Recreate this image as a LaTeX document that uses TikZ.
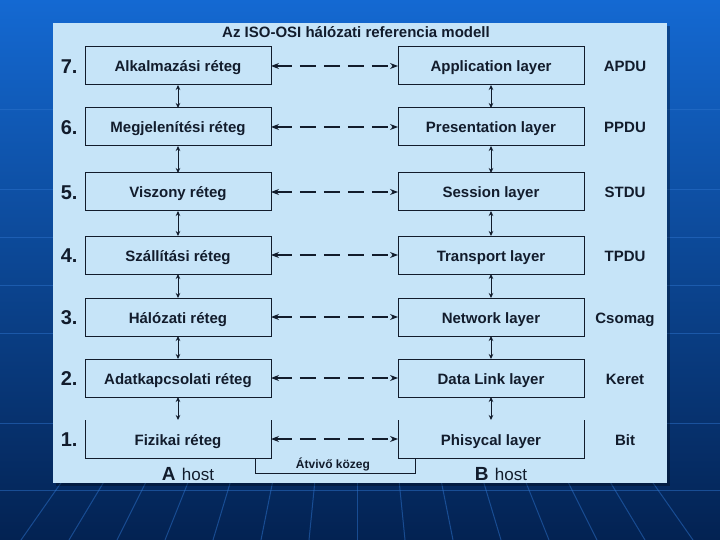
\documentclass[tikz,border=0pt]{standalone}
\usepackage{fontspec}
\setmainfont{Liberation Sans}
\usetikzlibrary{arrows.meta}
\definecolor{bgtop}{RGB}{20,105,210}
\definecolor{bgmid}{RGB}{12,72,165}
\definecolor{bgbot}{RGB}{3,34,82}
\definecolor{panel}{RGB}{198,228,248}
\definecolor{ink}{RGB}{18,28,44}
\definecolor{gridl}{RGB}{45,115,205}
\tikzset{
  layerbox/.style={minimum width=186pt, minimum height=38pt, inner sep=0pt, outer sep=0pt,
    text height=15pt, text depth=3pt,
    font=\fontsize{15}{18}\selectfont\bfseries, text=ink},
  framed/.style={draw=ink, line width=1pt},
  numlbl/.style={anchor=east, font=\fontsize{20}{24}\selectfont\bfseries, text=ink},
  pdulbl/.style={text height=13pt, text depth=3pt, font=\fontsize{15}{18}\selectfont\bfseries, text=ink},
  peerarrow/.style={draw=ink, line width=1.1pt, dash pattern=on 16pt off 8pt,
    {Stealth[length=8pt,width=6pt]}-{Stealth[length=8pt,width=6pt]}},
  vertarrow/.style={draw=ink, line width=0.8pt,
    {Stealth[length=5pt,width=4.5pt]}-{Stealth[length=5pt,width=4.5pt]}},
}
\begin{document}
\begin{tikzpicture}[x=1pt,y=-1pt]
\useasboundingbox (0,0) rectangle (720,540);
% background
\shade[top color=bgtop, middle color=bgmid, bottom color=bgbot] (0,0) rectangle (720,540);
\begin{scope}[draw=gridl, line width=1pt, opacity=0.5]
  \foreach \yy in {110,190,237,285,333,423,490}
    \draw (0,\yy) -- (720,\yy);
  \begin{scope}
    \clip (0,483) rectangle (720,540);
    \foreach \k in {-7,...,7}
      \draw (357,60) -- ({357+\k*48},540);
  \end{scope}
\end{scope}
% panel
\fill[black, opacity=0.3] (56,26) rectangle (670,486);
\fill[panel] (53,23) rectangle (667,483);
% title
\node[font=\fontsize{15}{18}\selectfont\bfseries, text=ink] (title) at (356,32) {Az ISO-OSI hálózati referencia modell};
% rows
\foreach \n/\yy/\la/\lb/\pdu in {
  7/66/Alkalmazási réteg/Application layer/APDU,
  6/127/Megjelenítési réteg/Presentation layer/PPDU,
  5/192/Viszony réteg/Session layer/STDU,
  4/255/Szállítási réteg/Transport layer/TPDU,
  3/317/Hálózati réteg/Network layer/Csomag,
  2/378/Adatkapcsolati réteg/Data Link layer/Keret,
  1/439/Fizikai réteg/Phisycal layer/Bit}{
  \node[layerbox] (a\n) at (178,\yy) {\la};
  \node[layerbox] (b\n) at (491,\yy) {\lb};
  \node[numlbl] (n\n) at (81,\yy+1) {\n.};
  \node[pdulbl] (p\n) at (625,\yy+1) {\pdu};
  \draw[peerarrow] (a\n.east) -- (b\n.west);
}
% box frames (layer 1 has no top edge)
\foreach \n in {2,...,7}{
  \draw[framed] (a\n.north west) rectangle (a\n.south east);
  \draw[framed] (b\n.north west) rectangle (b\n.south east);
}
\draw[framed] (a1.north west) -- (a1.south west) -- (a1.south east) -- (a1.north east);
\draw[framed] (b1.north west) -- (b1.south west) -- (b1.south east) -- (b1.north east);
% vertical arrows
\foreach \u/\l in {7/6,6/5,5/4,4/3,3/2,2/1}{
  \draw[vertarrow] (a\u.south) -- (a\l.north);
  \draw[vertarrow] (b\u.south) -- (b\l.north);
}
% transmission medium
\coordinate (ma) at (255,458);
\coordinate (mb) at (415,458);
\draw[draw=ink, line width=1pt] (ma) -- (255,473) -- (415,473) -- (mb);
\node[font=\fontsize{12}{14}\selectfont\bfseries, text=ink] (medium) at (333,464) {Átvivő közeg};
% host labels
\node[text=ink] (ahost) at (188,474) {\fontsize{19}{22}\selectfont\bfseries A\,\,\fontsize{17}{20}\selectfont\mdseries host};
\node[text=ink] (bhost) at (501,474) {\fontsize{19}{22}\selectfont\bfseries B\,\,\fontsize{17}{20}\selectfont\mdseries host};
\end{tikzpicture}
\end{document}
